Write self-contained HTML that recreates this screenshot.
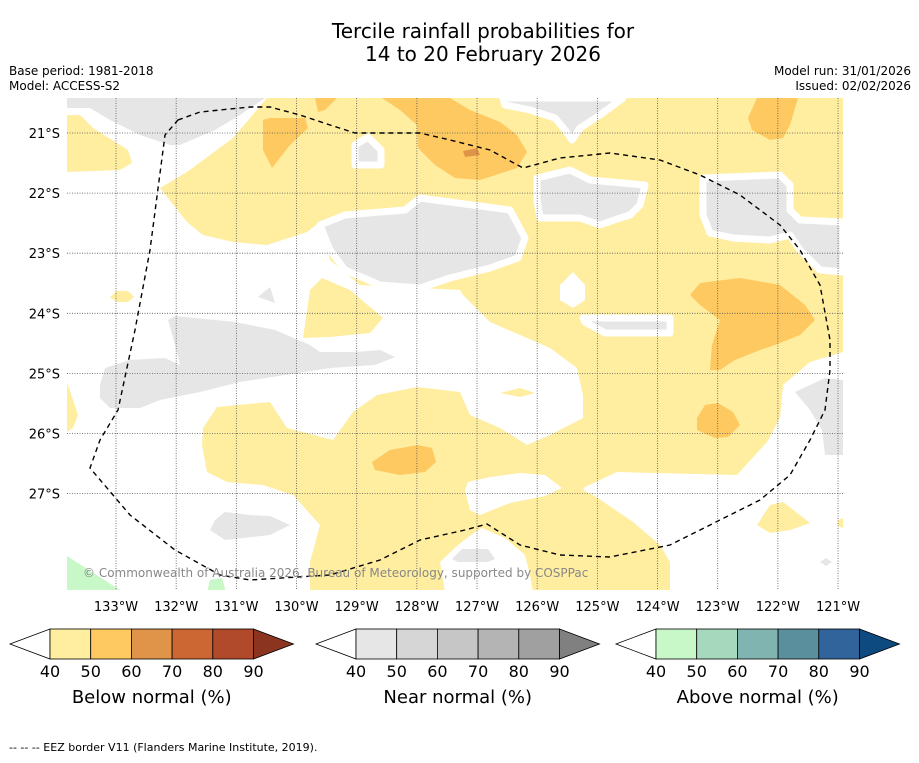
<!DOCTYPE html>
<html><head><meta charset="utf-8"><style>
html,body{margin:0;padding:0;background:#fff;}
body{width:919px;height:758px;overflow:hidden;font-family:"Liberation Sans","DejaVu Sans",sans-serif;}
svg text{font-family:"DejaVu Sans","Liberation Sans",sans-serif;}
</style></head><body>
<svg id="chart" width="919" height="758" xmlns="http://www.w3.org/2000/svg">
<rect x="0" y="0" width="919" height="758" fill="#fff"/>
<text x="483" y="38" font-size="20" text-anchor="middle" fill="#000">Tercile rainfall probabilities for</text>
<text x="483" y="61" font-size="20" text-anchor="middle" fill="#000">14 to 20 February 2026</text>
<text x="9" y="75" font-size="12">Base period: 1981-2018</text>
<text x="9" y="90" font-size="12">Model: ACCESS-S2</text>
<text x="911" y="75" font-size="12" text-anchor="end">Model run: 31/01/2026</text>
<text x="911" y="90" font-size="12" text-anchor="end">Issued: 02/02/2026</text>
<defs><clipPath id="mapclip"><rect x="67" y="98" width="776" height="492"/></clipPath></defs>
<g clip-path="url(#mapclip)">
<g fill="#ffeda0">
<polygon points="160,188 187,172 233,138 267,98 843,98 843,352 810,362 783,385 780,418 767,442 737,475 617,472 583,488 633,522 660,545 670,562 670,592 310,592 310,562 320,525 293,495 263,485 227,482 207,472 202,445 203,428 217,407 270,402 287,428 333,440 353,412 377,395 417,387 460,392 470,415 500,428 527,445 550,435 583,418 583,395 577,368 550,348 490,322 463,295 460,290 360,285 330,260 320,222 307,232 267,245 233,242 203,235 187,222"/>
<polygon points="303,338 310,290 322,278 350,290 383,318 370,333 330,337"/>
<polygon points="110,297 117,291 128,291 134,297 128,302 117,302"/>
<polygon points="67,115 80,115 93,128 128,150 132,163 120,170 67,172"/>
<polygon points="67,382 78,415 73,428 67,432"/>
<polygon points="500,393 520,388 535,393 520,397"/>
<polygon points="757,525 770,505 783,502 810,523 790,530 770,533"/>
<polygon points="838,520 843,518 843,528 838,526"/>
</g>
<g fill="#fff">
<polygon points="465,490 468,482 490,477 520,473 545,475 562,488 545,496 510,503 480,515 470,510"/>
<polygon points="440,562 458,545 475,532 482,528 505,538 525,555 530,575 533,592 445,592"/>
<polygon points="583,490 590,486 600,490 590,494"/>
<polygon points="560,285 573,272 585,285 585,300 573,308 560,300"/>
</g>
<g fill="#e6e6e6" stroke="#fff" stroke-width="7" stroke-linejoin="round">
<polygon points="67,98 265,98 240,115 215,130 180,145 170,145 140,135 110,120 90,108 67,108" stroke-width="0"/>
<polygon points="355,145 368,137 381,150 381,165 355,165"/>
<polygon points="320,225 345,215 405,210 420,198 510,210 525,238 518,258 490,268 450,278 420,288 380,285 345,270 330,250"/>
<polygon points="503,98 623,98 600,115 580,128 572,140 565,130 555,118 530,110 505,105"/>
<polygon points="537,178 570,170 590,180 645,185 640,205 630,215 620,218 600,225 580,218 540,218 537,200"/>
<polygon points="703,178 780,175 790,185 790,210 800,220 843,222 843,272 820,270 800,250 790,235 770,240 733,238 710,233 703,215"/>
<polygon points="583,318 670,318 670,333 605,333 585,322"/>
<polygon points="100,385 105,368 130,360 165,358 180,365 175,345 168,320 175,316 235,322 275,330 310,345 320,352 355,352 380,350 395,357 375,365 330,368 285,375 240,382 200,392 160,400 140,408 110,408 100,398" stroke-width="0"/>
<polygon points="258,297 270,287 275,303" stroke-width="0"/>
<polygon points="215,520 225,512 250,515 270,516 290,525 270,535 225,540 210,530" stroke-width="0"/>
<polygon points="795,392 825,378 843,380 843,455 825,455 822,430 810,410" stroke-width="0"/>
<polygon points="452,559 462,549 488,549 495,559 488,562 458,562" stroke-width="0"/>
<polygon points="820,562 826,558 832,562 826,566" stroke-width="0"/>
</g>
<g fill="#fec960">
<polygon points="263,120 270,118 305,118 308,128 290,145 272,168 263,150"/>
<polygon points="315,98 337,98 325,110 318,112"/>
<polygon points="382,98 450,98 470,110 500,122 517,135 527,152 517,168 480,180 455,178 435,165 418,148 417,125 400,110"/>
<polygon points="757,98 798,98 790,125 783,138 770,140 752,130 748,118"/>
<polygon points="690,295 700,283 740,278 780,285 805,305 815,320 800,335 775,345 760,350 735,360 720,370 710,370 712,345 720,320 700,305"/>
<polygon points="697,418 705,405 718,403 733,412 740,425 728,437 715,438 697,430"/>
<polygon points="372,462 390,450 418,445 432,448 436,462 425,472 400,475 375,470"/>
</g>
<polygon points="463,151 477,148 480,155 465,157" fill="#e0944a"/>
<g fill="#c8f8c8">
<polygon points="67,556 120,590 67,592"/>
<polygon points="207,592 210,580 222,578 226,592"/>
</g>
<g id="grid"></g>
<path d="M178,120 L200,112 L250,107 L270,107 L300,115 L330,125 L355,133 L390,133 L420,133 L450,140 L490,150 L523,168 L560,158 L610,153 L660,160 L700,175 L740,195 L780,225 L800,250 L820,285 L830,340 L830,370 L825,410 L810,440 L790,475 L760,500 L720,520 L670,545 L610,557 L560,555 L520,545 L487,524 L465,530 L420,540 L380,560 L330,575 L250,580 L220,575 L175,550 L130,515 L90,468 L100,440 L118,410 L135,330 L150,250 L165,135 Z" fill="none" stroke="#000" stroke-width="1.4" stroke-dasharray="5,4"/>
<text x="83" y="577" font-size="12" fill="#888">© Commonwealth of Australia 2026, Bureau of Meteorology, supported by COSPPac</text>
</g>
<g id="axes"></g>
<g id="cbars"></g>
<text x="9" y="751" font-size="11">--  --  -- EEZ border V11 (Flanders Marine Institute, 2019).</text>
</svg>
<script>
const lonTicks = [133,132,131,130,129,128,127,126,125,124,123,122,121];
const latTicks = [21,22,23,24,25,26,27];
const cbLevels = ["40","50","60","70","80","90"];
const belowColors = ["#ffeda0","#fec960","#e0944a","#cc6633","#b04a2a","#8b3520"];
const nearColors = ["#e6e6e6","#d6d6d6","#c6c6c6","#b4b4b4","#a0a0a0","#808080"];
const aboveColors = ["#c8f8c8","#a6d8be","#80b4b0","#5a909e","#30649a","#0d4a80"];
const cbTitles = ["Below normal (%)","Near normal (%)","Above normal (%)"];

const NS="http://www.w3.org/2000/svg";
function xLon(l){return 116+(133-l)*60.17;}
function yLat(l){return 133+(l-21)*60.1;}
const grid=document.getElementById('grid');
const axes=document.getElementById('axes');
lonTicks.forEach(l=>{
  const ln=document.createElementNS(NS,'line');
  
  
  ln.setAttribute('x1',xLon(l));ln.setAttribute('x2',xLon(l));ln.setAttribute('y1',98);ln.setAttribute('y2',590);
  ln.setAttribute('stroke','#555');ln.setAttribute('stroke-width','0.8');ln.setAttribute('stroke-dasharray','1,1.5');
  grid.appendChild(ln);
  const t=document.createElementNS(NS,'text');
  
  
  t.setAttribute('x',xLon(l));t.setAttribute('y',611);t.setAttribute('font-size','13');t.setAttribute('text-anchor','middle');
  t.textContent=l+'°W';axes.appendChild(t);
});
latTicks.forEach(l=>{
  const ln=document.createElementNS(NS,'line');
  
  
  ln.setAttribute('x1',67);ln.setAttribute('x2',843);ln.setAttribute('y1',yLat(l));ln.setAttribute('y2',yLat(l));
  ln.setAttribute('stroke','#555');ln.setAttribute('stroke-width','0.8');ln.setAttribute('stroke-dasharray','1,1.5');
  grid.appendChild(ln);
  const t=document.createElementNS(NS,'text');
  
  
  t.setAttribute('x',60);t.setAttribute('y',yLat(l)+5);t.setAttribute('font-size','13');t.setAttribute('text-anchor','end');
  t.textContent=l+'°S';axes.appendChild(t);
});
const cb=document.getElementById('cbars');
const sets=[[10,belowColors],[316,nearColors],[616,aboveColors]];
sets.forEach((s,i)=>{
  const x0=s[0],cols=s[1],w=40.7,y=629,h=30,L=x0+40;
  const g=document.createElementNS(NS,'g');
  
  
  cb.appendChild(g);
  const tri=document.createElementNS(NS,'polygon');
  
  
  tri.setAttribute('points',`${L},${y} ${x0},${y+h/2} ${L},${y+h}`);tri.setAttribute('fill','#fff');tri.setAttribute('stroke','#000');tri.setAttribute('stroke-width','0.8');
  g.appendChild(tri);
  for(let k=0;k<5;k++){
    const r=document.createElementNS(NS,'rect');
    
    
    r.setAttribute('x',L+k*w);r.setAttribute('y',y);r.setAttribute('width',w);r.setAttribute('height',h);
    r.setAttribute('fill',cols[k]);r.setAttribute('stroke','#000');r.setAttribute('stroke-width','0.8');
    g.appendChild(r);
  }
  const R=L+5*w;
  const tri2=document.createElementNS(NS,'polygon');
  
  
  tri2.setAttribute('points',`${R},${y} ${R+40},${y+h/2} ${R},${y+h}`);tri2.setAttribute('fill',cols[5]);tri2.setAttribute('stroke','#000');tri2.setAttribute('stroke-width','0.8');
  g.appendChild(tri2);
  cbLevels.forEach((lv,k)=>{
    const t=document.createElementNS(NS,'text');
    
    
    t.setAttribute('x',L+k*w);t.setAttribute('y',677);t.setAttribute('font-size','16');t.setAttribute('text-anchor','middle');
    t.textContent=lv;g.appendChild(t);
  });
  const tt=document.createElementNS(NS,'text');
  
  
  tt.setAttribute('x',L+2.5*w);tt.setAttribute('y',703);tt.setAttribute('font-size','18');tt.setAttribute('text-anchor','middle');
  tt.textContent=cbTitles[i];g.appendChild(tt);
});
</script>
</body></html>
